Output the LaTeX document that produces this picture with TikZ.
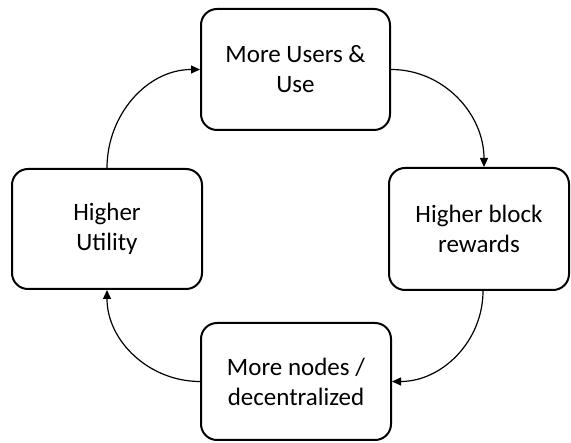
\documentclass[tikz,border=0pt]{standalone}
\usepackage{fontspec}
\setmainfont{Carlito}
\usetikzlibrary{arrows.meta}
\begin{document}
\begin{tikzpicture}[x=1pt,y=-1pt,
  box/.style={draw=black, line width=2pt, rounded corners=16pt, fill=white,
    align=center, inner sep=0pt, font=\fontsize{25}{30}\selectfont},
  link/.style={line width=1.2pt, -{Triangle[length=9pt,width=8pt]}}]
\useasboundingbox (0,0) rectangle (571,443);
\node[box, minimum width=189pt, minimum height=121pt] (top) at (295.5,69.5) {More Users \&\\Use};
\node[box, minimum width=180pt, minimum height=122pt] (rgt) at (479,229) {Higher block\\rewards};
\node[box, minimum width=190pt, minimum height=117pt] (bot) at (296,381.5) {More nodes /\\decentralized};
\node[box, minimum width=190pt, minimum height=120pt] (lft) at (107,229) {Higher\\Utility};
\draw[link] (top.east) to[out=0,in=90] ([xshift=5pt]rgt.north);
\draw[link] ([xshift=4pt]rgt.south) to[out=-90,in=0] (bot.east);
\draw[link] (bot.west) to[out=180,in=-90] (lft.south);
\draw[link] (lft.north) to[out=90,in=180] (top.west);
\end{tikzpicture}
\end{document}
